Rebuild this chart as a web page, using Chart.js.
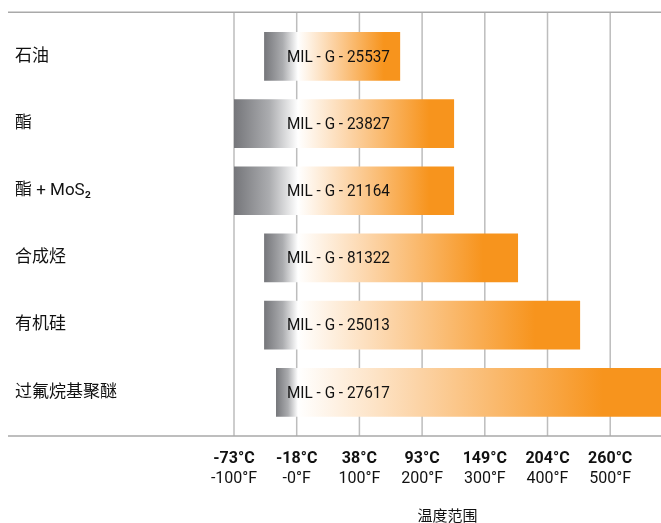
<!DOCTYPE html>
<html>
<head>
<meta charset="utf-8">
<script src="https://cdn.jsdelivr.net/npm/chart.js@4.4.1/dist/chart.umd.min.js"></script>
<style>
  html, body { margin: 0; padding: 0; background: #fff; }
  #wrap { width: 661px; height: 523px; }
</style>
</head>
<body>
<div id="wrap"><canvas id="chart" width="661" height="523"></canvas></div>
<script>
// lubricant base types and their MIL spec temperature ranges (°F)
const categories = ['石油', '酯', '酯 + MoS₂', '合成烃', '有机硅', '过氟烷基聚醚'];
const specCodes = ['MIL - G - 25537', 'MIL - G - 23827', 'MIL - G - 21164', 'MIL - G - 81322', 'MIL - G - 25013', 'MIL - G - 27617'];
const rangeStartF = [-52, -100, -100, -52, -52, -33];
const rangeEndF = [165, 251, 251, 353, 452, 581];

// axis ticks
const tickValuesF = [-100, 0, 100, 200, 300, 400, 500];
const celsiusLabels = ['-73°C', '-18°C', '38°C', '93°C', '149°C', '204°C', '260°C'];
const fahrenheitLabels = ['-100°F', '-0°F', '100°F', '200°F', '300°F', '400°F', '500°F'];

const narrow = "Roboto, 'Noto Sans CJK SC', sans-serif";
const cjk = "'Noto Sans CJK SC', sans-serif";

function barGradient(context) {
  const chart = context.chart;
  const xs = chart.scales.x;
  const raw = context.raw;
  if (!chart.chartArea || !xs || !Array.isArray(raw)) return '#f7941d';
  const x0 = xs.getPixelForValue(raw[0]);
  const x1 = xs.getPixelForValue(raw[1]);
  const xWhite = xs.getPixelForValue(2);
  const span = x1 - x0;
  const w = Math.max(0, Math.min(1, (xWhite - x0) / span));
  const full = w + (1 - w) * 0.84;
  const g = chart.ctx.createLinearGradient(x0, 0, x1, 0);
  g.addColorStop(0, '#75767a');
  g.addColorStop(w * 0.55, '#abacaf');
  g.addColorStop(w, '#ffffff');
  g.addColorStop(w + (full - w) * 0.4, '#fcd3a5');
  g.addColorStop(full, '#f7941d');
  g.addColorStop(1, '#f7941d');
  return g;
}

const framePlugin = {
  id: 'frame',
  beforeDatasetsDraw(chart) {
    const { ctx, chartArea, scales: { x } } = chart;
    const top = chartArea.top - 10.5;
    const bottom = chartArea.bottom + 10;
    ctx.save();
    ctx.strokeStyle = '#bdbdbd';
    ctx.lineWidth = 1.5;
    tickValuesF.forEach(v => {
      const px = x.getPixelForValue(v);
      ctx.beginPath();
      ctx.moveTo(px, top);
      ctx.lineTo(px, bottom);
      ctx.stroke();
    });
    ctx.strokeStyle = '#a9a9a9';
    ctx.beginPath();
    ctx.moveTo(8, top);
    ctx.lineTo(chartArea.right, top);
    ctx.moveTo(8, bottom);
    ctx.lineTo(chartArea.right, bottom);
    ctx.stroke();
    ctx.restore();
  },
  afterDatasetsDraw(chart) {
    const { ctx, scales: { x, y } } = chart;
    ctx.save();
    ctx.font = '17px ' + narrow;
    ctx.fillStyle = '#111';
    ctx.textAlign = 'left';
    ctx.textBaseline = 'middle';
    specCodes.forEach((code, i) => {
      // condensed look: squeeze to the width of the original label
      ctx.fillText(code, x.getPixelForValue(-15.5), y.getPixelForValue(i) + 1, 103);
    });
    ctx.restore();
  }
};

const xRange = { min: -100, max: 581 };

new Chart(document.getElementById('chart'), {
  type: 'bar',
  data: {
    labels: categories,
    datasets: [{
      data: categories.map((c, i) => [rangeStartF[i], rangeEndF[i]]),
      backgroundColor: barGradient,
      borderWidth: 0,
      barPercentage: 0.725,
      categoryPercentage: 1
    }]
  },
  options: {
    indexAxis: 'y',
    responsive: false,
    animation: false,
    layout: { padding: { left: 15, top: 22.7, right: 0, bottom: 0 } },
    plugins: { legend: { display: false }, tooltip: { enabled: false } },
    scales: {
      x: {
        type: 'linear',
        position: 'bottom',
        min: xRange.min,
        max: xRange.max,
        grid: { display: false, drawTicks: false },
        border: { display: false },
        afterBuildTicks: s => { s.ticks = tickValuesF.map(v => ({ value: v })); },
        afterFit: s => { s.height = 43; },
        ticks: {
          padding: 23,
          autoSkip: false,
          maxRotation: 0,
          color: '#111',
          font: { family: narrow, size: 16, weight: 'bold', lineHeight: 1.2 },
          callback: v => celsiusLabels[tickValuesF.indexOf(v)]
        }
      },
      x2: {
        type: 'linear',
        position: 'bottom',
        min: xRange.min,
        max: xRange.max,
        grid: { display: false, drawTicks: false },
        border: { display: false },
        afterBuildTicks: s => { s.ticks = tickValuesF.map(v => ({ value: v })); },
        afterFit: s => { s.height = 54; },
        ticks: {
          padding: 0,
          autoSkip: false,
          maxRotation: 0,
          color: '#111',
          font: { family: narrow, size: 16, lineHeight: 1.2 },
          callback: v => fahrenheitLabels[tickValuesF.indexOf(v)]
        },
        title: {
          display: true,
          text: '温度范围',
          color: '#111',
          font: { family: cjk, size: 15, lineHeight: '10px' },
          padding: { top: 21, bottom: 3 }
        }
      },
      y: {
        grid: { display: false, drawTicks: false },
        border: { display: false },
        afterFit: s => { s.width = 219; },
        ticks: {
          crossAlign: 'far',
          padding: 0,
          color: '#111',
          font: { family: "Roboto, 'Noto Sans CJK SC', sans-serif", size: 17 }
        }
      }
    }
  },
  plugins: [framePlugin]
});
</script>
</body>
</html>
